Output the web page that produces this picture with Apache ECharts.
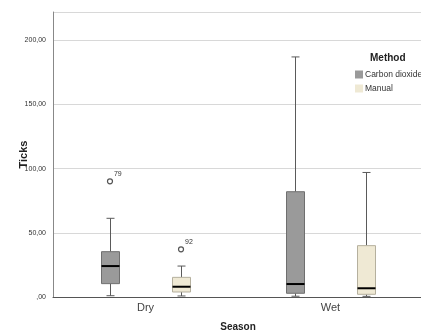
<!DOCTYPE html>
<html>
<head>
<meta charset="utf-8">
<script src="https://cdn.jsdelivr.net/npm/echarts@6/dist/echarts.min.js"></script>
<style>html,body{margin:0;padding:0;background:#fff}#c{width:421px;height:333px}</style>
</head>
<body>
<div id="c"></div>
<script>
const categories = ['Dry', 'Wet'];
const yTickLabels = { 0: ',00', 50: '50,00', 100: '100,00', 150: '150,00', 200: '200,00' };

const co2Min = [1, 0.6];
const co2Q1 = [10.4, 2.9];
const co2Median = [24.1, 10.1];
const co2Q3 = [35.3, 82.0];
const co2Max = [61.3, 187.0];

const manualMin = [0.8, 0.5];
const manualQ1 = [3.9, 2.1];
const manualMedian = [8.0, 6.8];
const manualQ3 = [15.3, 40.0];
const manualMax = [24.1, 97.0];

const co2Outliers = [[0, 90.1, '79']];
const manualOutliers = [[0, 37.1, '92']];

function boxData(mins, q1s, meds, q3s, maxs) {
  return categories.map((c, i) => [i, mins[i], q1s[i], meds[i], q3s[i], maxs[i]]);
}

function makeBoxRender(shift, fill, stroke) {
  return function (params, api) {
    const band = api.size([1, 0])[0];
    const cx = Math.round(api.coord([api.value(0), 0])[0] + band * shift) + 0.5;
    const y = k => api.coord([api.value(0), api.value(k)])[1];
    const yMin = y(1), yQ1 = y(2), yMed = y(3), yQ3 = y(4), yMax = y(5);
    const w = 18, cap = 8;
    const ws = { stroke: '#5a5a5a', lineWidth: 1 };
    return {
      type: 'group',
      children: [
        { type: 'line', shape: { x1: cx, y1: yMax, x2: cx, y2: yQ3 }, style: ws },
        { type: 'line', shape: { x1: cx, y1: yQ1, x2: cx, y2: yMin }, style: ws },
        { type: 'line', shape: { x1: cx - cap / 2, y1: yMax, x2: cx + cap / 2, y2: yMax }, style: ws },
        { type: 'line', shape: { x1: cx - cap / 2, y1: yMin, x2: cx + cap / 2, y2: yMin }, style: ws },
        { type: 'rect', shape: { x: cx - w / 2, y: yQ3, width: w, height: yQ1 - yQ3 }, style: { fill: fill, stroke: stroke, lineWidth: 1 } },
        { type: 'line', shape: { x1: cx - w / 2, y1: yMed, x2: cx + w / 2, y2: yMed }, style: { stroke: '#000', lineWidth: 2 } }
      ]
    };
  };
}

const outlierLabels = {
  co2Out: co2Outliers.map(d => d[2]),
  manOut: manualOutliers.map(d => d[2])
};

function makeOutlierRender(shift, key) {
  return function (params, api) {
    const band = api.size([1, 0])[0];
    const p = api.coord([api.value(0), api.value(1)]);
    const cx = p[0] + band * shift;
    const label = outlierLabels[key][params.dataIndex];
    return {
      type: 'group',
      children: [
        { type: 'circle', shape: { cx: cx, cy: p[1], r: 2.5 }, style: { fill: '#fff', stroke: '#555', lineWidth: 1.2 } },
        { type: 'text', x: cx + 4, y: p[1] - 11, style: { text: label, fill: '#333', fontSize: 7, fontFamily: 'Liberation Sans' } }
      ]
    };
  };
}

const SHIFT = 0.192;
const CO2_FILL = '#9a9a9a', CO2_STROKE = '#6f6f6f';
const MAN_FILL = '#efe9d4', MAN_STROKE = '#b5b09e';

const chart = echarts.init(document.getElementById('c'));
chart.setOption({
  animation: false,
  textStyle: { fontFamily: 'Liberation Sans' },
  title: {
    text: 'Method', left: 370, top: 53,
    textStyle: { fontSize: 10, fontWeight: 'bold', color: '#222', fontFamily: 'Liberation Sans' },
    padding: 0
  },
  legend: {
    data: ['Carbon dioxide', 'Manual'],
    orient: 'vertical', left: 355, top: 70, padding: 0,
    itemWidth: 8, itemHeight: 8, itemGap: 5, icon: 'rect',
    textStyle: { fontSize: 8.5, color: '#333', padding: [0, 0, 0, -3] }
  },
  grid: { left: 53, right: -2, top: 12, bottom: 36, containLabel: false, outerBoundsMode: 'none' },
  xAxis: {
    type: 'category', data: categories,
    name: 'Season', nameLocation: 'middle', nameGap: 25, nameMoveOverlap: false,
    nameTextStyle: { fontSize: 10, fontWeight: 'bold', color: '#222' },
    axisLine: { lineStyle: { color: '#555' } },
    axisTick: { show: false },
    axisLabel: { fontSize: 11, color: '#444', margin: 5 }
  },
  yAxis: {
    type: 'value', min: 0, max: 222, interval: 50,
    name: 'Ticks', nameLocation: 'middle', nameGap: 24, nameRotate: 90, nameMoveOverlap: false,
    nameTextStyle: { fontSize: 11, fontWeight: 'bold', color: '#222' },
    axisLine: { show: true, lineStyle: { color: '#888' } },
    axisTick: { show: false },
    axisLabel: { fontSize: 7, color: '#333', margin: 7, formatter: v => yTickLabels[v] !== undefined ? yTickLabels[v] : '' },
    splitLine: { lineStyle: { color: '#d8d8d8' } }
  },
  series: [
    {
      name: 'Carbon dioxide', type: 'custom',
      itemStyle: { color: CO2_FILL, borderColor: CO2_STROKE },
      encode: { x: 0, y: [1, 2, 3, 4, 5] },
      renderItem: makeBoxRender(-SHIFT, CO2_FILL, CO2_STROKE),
      data: boxData(co2Min, co2Q1, co2Median, co2Q3, co2Max)
    },
    {
      name: 'Manual', type: 'custom',
      itemStyle: { color: MAN_FILL, borderColor: MAN_STROKE },
      encode: { x: 0, y: [1, 2, 3, 4, 5] },
      renderItem: makeBoxRender(SHIFT, MAN_FILL, MAN_STROKE),
      data: boxData(manualMin, manualQ1, manualMedian, manualQ3, manualMax)
    },
    {
      type: 'custom',
      encode: { x: 0, y: 1 },
      renderItem: makeOutlierRender(-SHIFT, 'co2Out'),
      data: co2Outliers.map(d => [d[0], d[1]])
    },
    {
      type: 'custom',
      encode: { x: 0, y: 1 },
      renderItem: makeOutlierRender(SHIFT, 'manOut'),
      data: manualOutliers.map(d => [d[0], d[1]])
    }
  ]
});
</script>
</body>
</html>
